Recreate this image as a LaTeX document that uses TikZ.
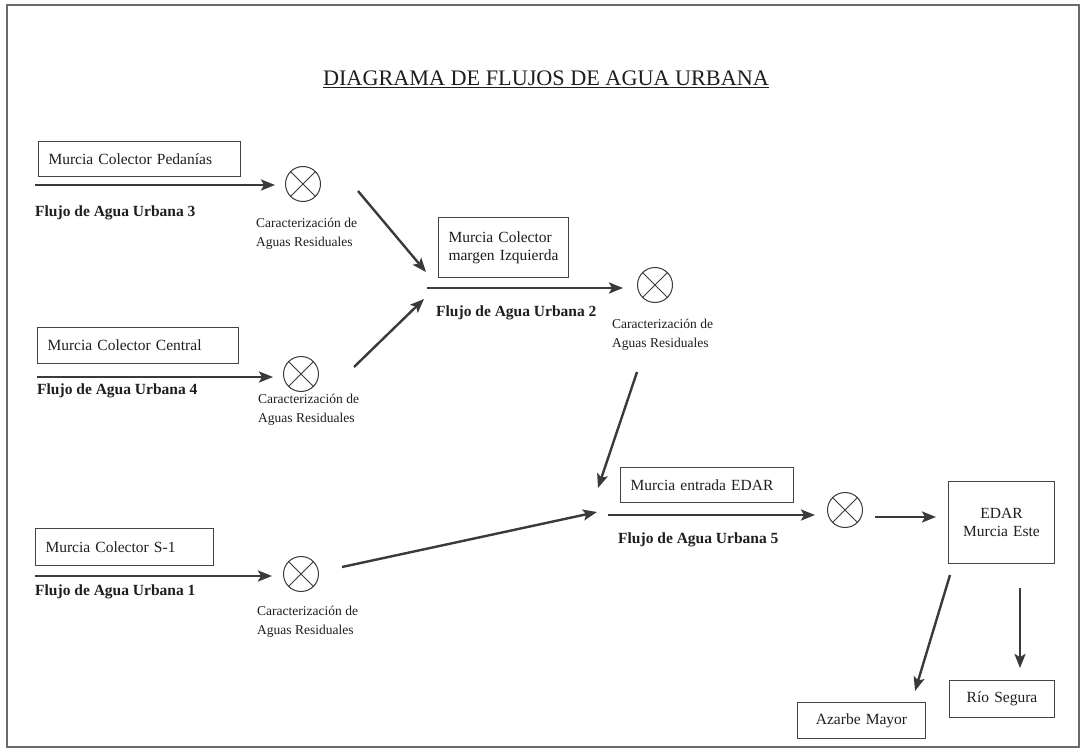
\documentclass[tikz,border=0pt]{standalone}
\usepackage{fontspec}
\setmainfont{Liberation Serif}
\usetikzlibrary{arrows.meta}
\definecolor{ink}{HTML}{1E1E1E}
\definecolor{linecol}{HTML}{3A3A3A}
\definecolor{boxcol}{HTML}{444444}
\definecolor{framecol}{HTML}{6A6A6A}
\tikzset{
  box/.style={draw=boxcol, line width=1pt, inner xsep=10pt, inner ysep=3pt, anchor=north west, text=ink, font=\fontsize{15.5}{18}\selectfont},
  flowlbl/.style={anchor=west, inner sep=0pt, text=ink, font=\fontsize{15.5}{18}\selectfont\bfseries},
  charlbl/.style={anchor=north west, inner sep=0pt, align=left, text=ink, font=\fontsize{13.5}{18.5}\selectfont},
  mixer/.style={circle, draw=linecol, line width=1pt, minimum size=35pt, inner sep=0pt},
  flow/.style={draw=linecol, line width=2.4pt, -{Stealth[length=14pt,width=11pt,inset=3pt]}},
}
\newcommand{\crossin}[1]{\draw[linecol, line width=1pt] (#1.north east) -- (#1.south west) (#1.north west) -- (#1.south east);}
\begin{document}
\begin{tikzpicture}[x=1pt,y=-1pt]
\useasboundingbox (0,0) rectangle (1083,751);
\fill[white] (0,0) rectangle (1083,751);
\draw[framecol, line width=1.3pt] (7,5) rectangle (1079,747);

% title
\node[text=ink, font=\fontsize{22.2}{25}\selectfont, inner sep=0pt] (title) at (546,79) {\underline{DIAGRAMA DE FLUJOS DE AGUA URBANA}};

% boxes
\node[box, text width=182pt, minimum height=35pt, align=left] (b3) at (38,141) {Murcia Colector Pedanías};
\node[box, text width=110pt, minimum height=60pt, align=left] (bL) at (438,217) {Murcia Colector\\margen Izquierda};
\node[box, text width=181pt, minimum height=36pt, align=left] (b4) at (37,327) {Murcia Colector Central};
\node[box, text width=158pt, minimum height=37pt, align=left] (b1) at (35,528) {Murcia Colector S-1};
\node[box, text width=153pt, minimum height=35pt, align=left] (bE) at (620,467) {Murcia entrada EDAR};
\node[box, text width=86pt, minimum height=82pt, align=center] (edar) at (948,481) {EDAR\\Murcia Este};
\node[box, text width=108pt, minimum height=36pt, align=center] (az) at (797,702) {Azarbe Mayor};
\node[box, text width=85pt, minimum height=37pt, align=center] (rio) at (949,680) {Río Segura};

% mixers
\node[mixer] (c3) at (303,184) {}; \crossin{c3}
\node[mixer] (c4) at (301,374) {}; \crossin{c4}
\node[mixer] (c1) at (301,574) {}; \crossin{c1}
\node[mixer] (c2) at (655,285) {}; \crossin{c2}
\node[mixer] (c5) at (845,510) {}; \crossin{c5}

% flow labels
\node[flowlbl] (f3) at (35,213) {Flujo de Agua Urbana 3};
\node[flowlbl] (f4) at (37,391) {Flujo de Agua Urbana 4};
\node[flowlbl] (f1) at (35,592) {Flujo de Agua Urbana 1};
\node[flowlbl] (f2) at (436,313) {Flujo de Agua Urbana 2};
\node[flowlbl] (f5) at (618,540) {Flujo de Agua Urbana 5};

% characterization labels
\node[charlbl] (k3) at (256,218) {Caracterización de\\Aguas Residuales};
\node[charlbl] (k4) at (258,394) {Caracterización de\\Aguas Residuales};
\node[charlbl] (k1) at (257,606) {Caracterización de\\Aguas Residuales};
\node[charlbl] (k2) at (612,319) {Caracterización de\\Aguas Residuales};

% connector end points
\coordinate (s3) at (35,185);   \coordinate (e3) at (275,185);
\coordinate (s4) at (37,377);   \coordinate (e4) at (273,377);
\coordinate (s1) at (35,576);   \coordinate (e1) at (272,576);
\coordinate (s2) at (427,288);  \coordinate (e2) at (623,288);
\coordinate (s5) at (608,515);  \coordinate (e5) at (815,515);
\coordinate (d3s) at (358,191); \coordinate (d3e) at (426,272);
\coordinate (d4s) at (354,367); \coordinate (d4e) at (424,299);
\coordinate (d2s) at (637,372); \coordinate (d2e) at (598,488);
\coordinate (d1s) at (342,567); \coordinate (d1e) at (597,512);
\coordinate (x5s) at (875,517); \coordinate (x5e) at (936,517);
\coordinate (dAs) at (950,575); \coordinate (dAe) at (915,691);
\coordinate (dRs) at (1020,588); \coordinate (dRe) at (1020,668);

% connectors
\draw[flow] (s3) -- (e3);
\draw[flow] (s4) -- (e4);
\draw[flow] (s1) -- (e1);
\draw[flow] (s2) -- (e2);
\draw[flow] (s5) -- (e5);
\draw[flow] (d3s) -- (d3e);
\draw[flow] (d4s) -- (d4e);
\draw[flow] (d2s) -- (d2e);
\draw[flow] (d1s) -- (d1e);
\draw[flow] (x5s) -- (x5e);
\draw[flow] (dAs) -- (dAe);
\draw[flow] (dRs) -- (dRe);
\end{tikzpicture}
\end{document}
